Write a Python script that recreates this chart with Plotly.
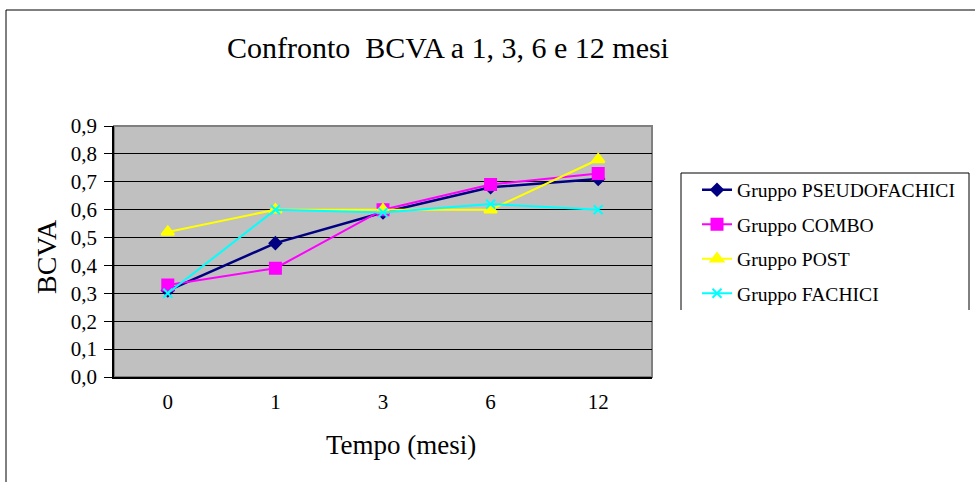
import plotly.graph_objects as go

categories = ["0", "1", "3", "6", "12"]
pseudofachici = [0.31, 0.48, 0.59, 0.68, 0.71]
combo = [0.33, 0.39, 0.60, 0.69, 0.73]
post = [0.52, 0.60, 0.60, 0.60, 0.78]
fachici = [0.30, 0.60, 0.59, 0.62, 0.60]

series = [
    ("Gruppo PSEUDOFACHICI", pseudofachici, "#000080", "diamond", 9, 2.5),
    ("Gruppo COMBO", combo, "#FF00FF", "square", 11, 2),
    ("Gruppo POST", post, "#FFFF00", "triangle-up", 11, 2),
    ("Gruppo FACHICI", fachici, "#00FFFF", "x-thin-open", 9, 2),
]

FONT = "'Times New Roman', 'Liberation Serif', Times, serif"

fig = go.Figure()
for i, (name, vals, col, sym, size, lw) in enumerate(series):
    fig.add_trace(go.Scatter(
        x=categories, y=vals, name=name, mode="lines+markers",
        line=dict(color=col, width=lw),
        marker=dict(symbol=sym, size=size, color=col,
                    line=dict(color=col, width=2)),
        legendgroup=f"g{i}",
    ))

L, R, T, B = 114, 652, 126, 377
W, H = 975, 482

def px(x):
    return (x - L) / (R - L)

def py(y):
    return (B - y) / (B - T)

shapes = [
    dict(type="rect", xref="paper", yref="paper", x0=0, x1=1, y0=0, y1=1,
         line=dict(color="#808080", width=2), layer="below"),
    dict(type="path", xref="paper", yref="paper",
         path=f"M {px(6)} {py(490)} L {px(6)} {py(10)} L {px(980)} {py(10)}",
         line=dict(color="black", width=1)),
    dict(type="path", xref="paper", yref="paper",
         path=f"M {px(681)} {py(310)} L {px(681)} {py(173)} L {px(969)} {py(173)} L {px(969)} {py(310)}",
         line=dict(color="black", width=1)),
]

fig.update_layout(
    width=W, height=H,
    margin=dict(l=L, r=W - R, t=T, b=H - B, pad=0, autoexpand=False),
    paper_bgcolor="white", plot_bgcolor="#C0C0C0",
    separators=",.",
    font=dict(family=FONT, color="black", size=18),
    title=dict(text="Confronto\u00a0 BCVA a 1, 3, 6 e 12 mesi", x=448 / W, xanchor="center",
               y=1 - 47 / H, yanchor="middle", font=dict(size=30, family=FONT)),
    showlegend=True,
    legend=dict(x=px(697), y=py(170.5), xanchor="left", yanchor="top",
                bgcolor="rgba(0,0,0,0)", borderwidth=0,
                traceorder="grouped", tracegroupgap=6,
                font=dict(size=19.6, family=FONT)),
    xaxis=dict(type="category", range=[-0.5, 4.5], showgrid=False,
               showline=True, linecolor="black", linewidth=1.5, ticks="",
               tickfont=dict(size=21, family=FONT), ticklabelstandoff=5),
    yaxis=dict(range=[0, 0.9], dtick=0.1, tick0=0, tickformat=".1f",
               showgrid=True, gridcolor="black", gridwidth=1,
               showline=True, linecolor="black", linewidth=1.5,
               ticks="outside", ticklen=8, tickcolor="black",
               tickfont=dict(size=21, family=FONT), zeroline=False,
               ticklabelstandoff=3),
    shapes=shapes,
    annotations=[
        dict(text="BCVA", xref="paper", yref="paper", x=px(46), y=py(257),
             textangle=-90, showarrow=False, font=dict(size=28, family=FONT),
             xanchor="center", yanchor="middle"),
        dict(text="Tempo (mesi)", xref="paper", yref="paper", x=px(401), y=py(445),
             showarrow=False, font=dict(size=27, family=FONT),
             xanchor="center", yanchor="middle"),
    ],
)

fig.write_html("out.html")
